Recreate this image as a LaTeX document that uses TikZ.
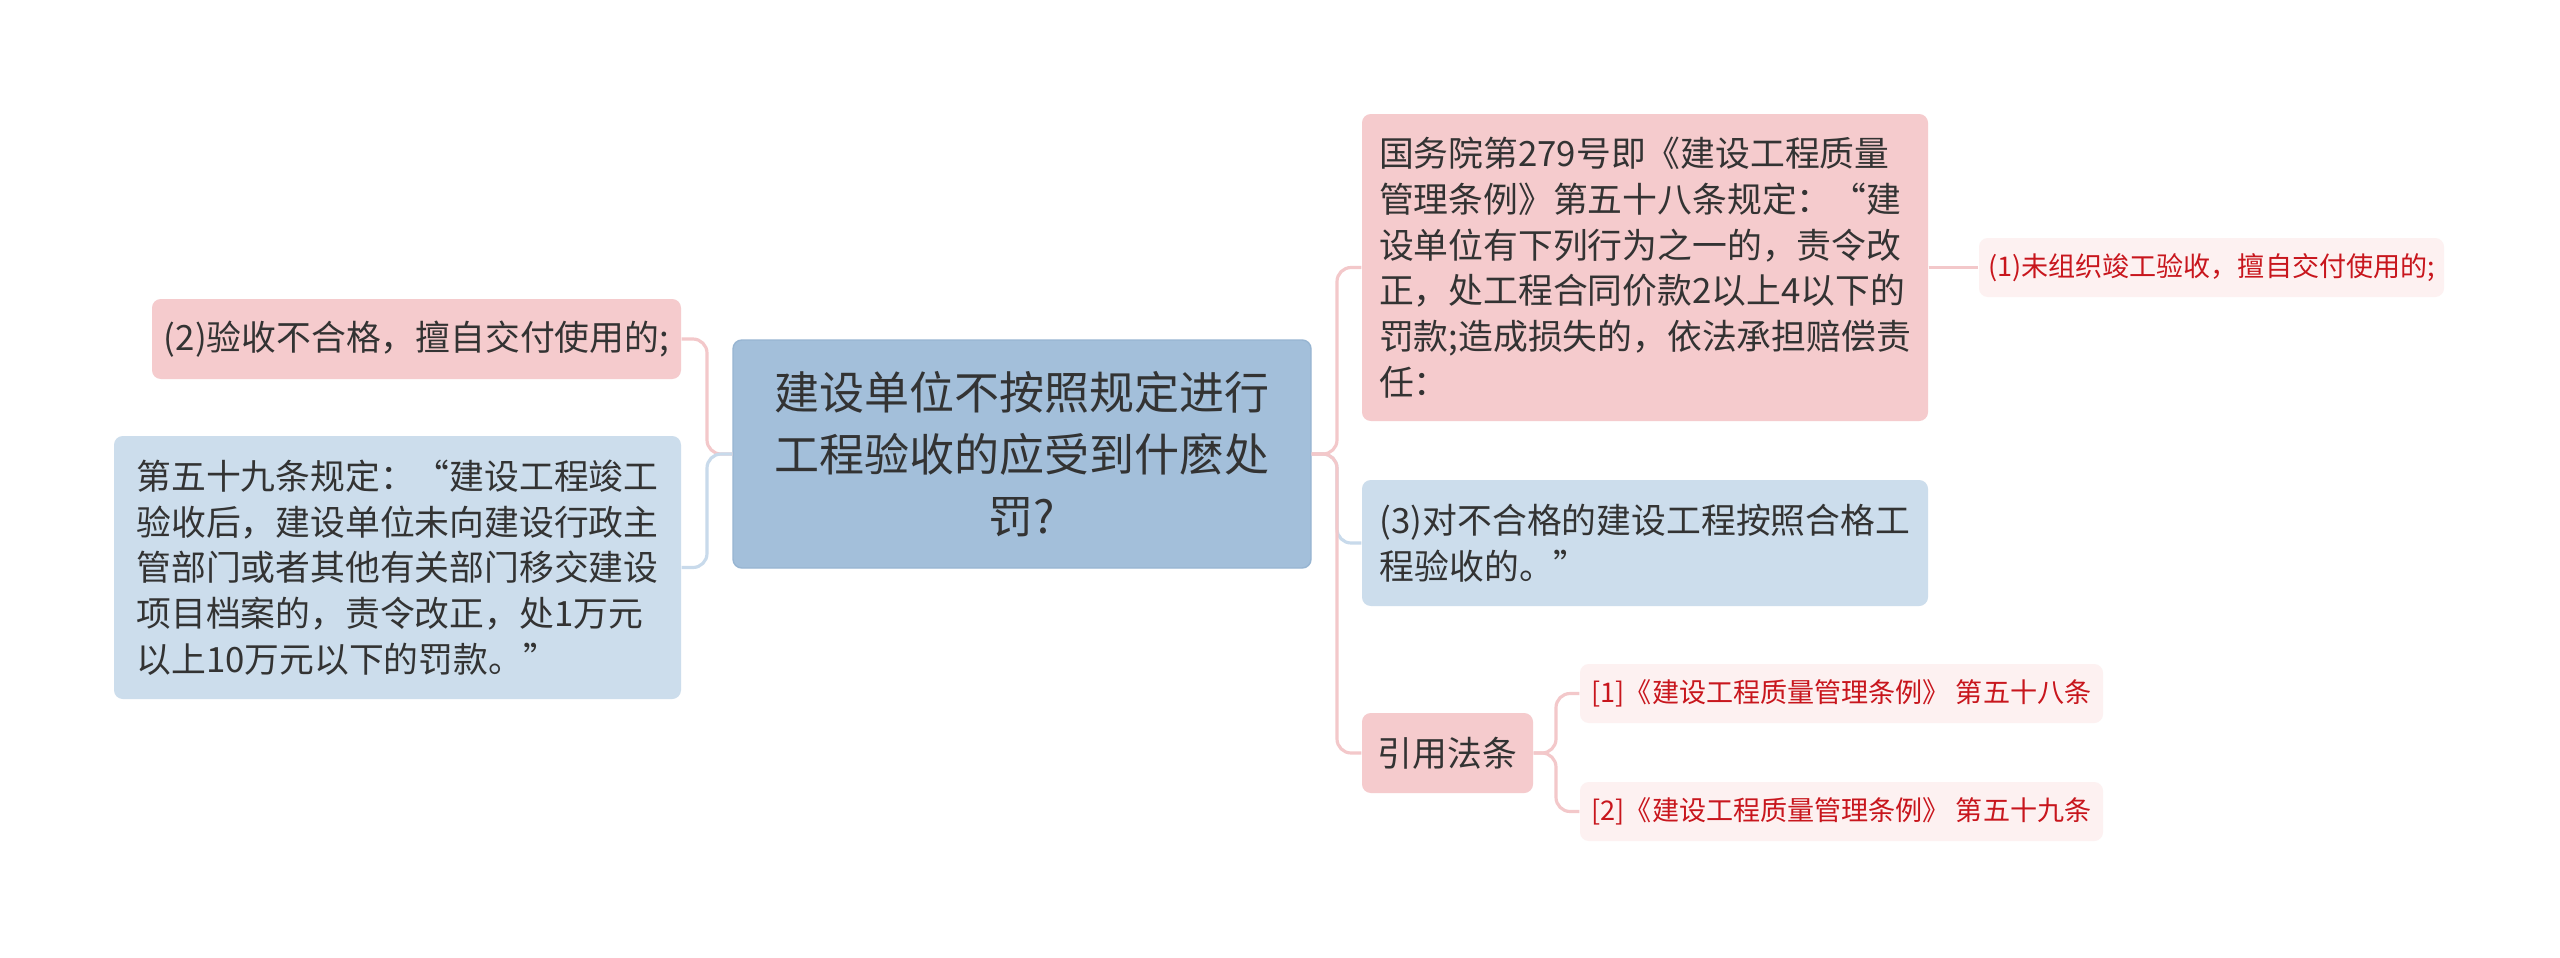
\documentclass[tikz,border=0pt]{standalone}
\usepackage{fontspec}
\setmainfont{Noto Sans CJK SC}
\usetikzlibrary{calc}
\definecolor{rootblue}{HTML}{A3BFDA}
\definecolor{rootedge}{HTML}{97B5D2}
\definecolor{boxpink}{HTML}{F5CBCD}
\definecolor{boxblue}{HTML}{CCDDEC}
\definecolor{leafpink}{HTML}{FDF1F1}
\definecolor{leafred}{HTML}{C8161D}
\definecolor{inkgray}{HTML}{333333}
\definecolor{linkpink}{HTML}{F3C8CA}
\definecolor{linkblue}{HTML}{C8DAEB}
\tikzset{
  rootbox/.style={rounded corners=2.5pt, inner sep=0pt, fill=rootblue, draw=rootedge, line width=0.4pt,
    align=center, text=inkgray, font=\fontsize{12.8}{17.6}\selectfont},
  topicbox/.style={rounded corners=2.5pt, inner sep=0pt, align=left, text=inkgray,
    font=\fontsize{9.9}{13}\selectfont},
  leafbox/.style={rounded corners=2.5pt, inner sep=0pt, fill=leafpink, align=left, text=leafred,
    font=\fontsize{7.7}{9.5}\selectfont},
  pinklink/.style={draw=linkpink, line width=0.9pt, rounded corners=4pt},
  bluelink/.style={draw=linkblue, line width=0.9pt, rounded corners=4pt},
  % box size, in pixels
  boxsize/.style 2 args={minimum width=#1*0.01cm, minimum height=#2*0.01cm}
}

\begin{document}
\begin{tikzpicture}[x=0.01cm, y=-0.01cm]
        \useasboundingbox[fill=white] (0,0) rectangle (2560,957);

        % centre
        \node[rootbox, boxsize={578}{228}] (root) at (1022,454)
          {建设单位不按照规定进行\\工程验收的应受到什麽处\\罚?};

        % left side
        \node[topicbox, fill=boxpink, boxsize={529}{80}] (accept) at (416.5,339)
          {(2)验收不合格，擅自交付使用的;};
        \node[topicbox, fill=boxblue, boxsize={567}{263}] (art59) at (397.5,567.5)
          {第五十九条规定：“建设工程竣工\\验收后，建设单位未向建设行政主\\管部门或者其他有关部门移交建设\\项目档案的，责令改正，处1万元\\以上10万元以下的罚款。”};

        % right side
        \node[topicbox, fill=boxpink, boxsize={566}{307}] (art58) at (1645,267.5)
          {国务院第279号即《建设工程质量\\管理条例》第五十八条规定：“建\\设单位有下列行为之一的，责令改\\正，处工程合同价款2以上4以下的\\罚款;造成损失的，依法承担赔偿责\\任：};
        \node[leafbox, boxsize={465}{59}] (item1) at (2211.5,267.5)
          {(1)未组织竣工验收，擅自交付使用的;};
        \node[topicbox, fill=boxblue, boxsize={566}{126}] (item3) at (1645,543)
          {(3)对不合格的建设工程按照合格工\\程验收的。”};
        \node[topicbox, fill=boxpink, boxsize={171}{80}] (cite) at (1447.5,753)
          {引用法条};
        \node[leafbox, boxsize={523}{59}] (cite1) at (1841.5,693.5)
          {[1]《建设工程质量管理条例》 第五十八条};
        \node[leafbox, boxsize={523}{59}] (cite2) at (1841.5,811.5)
          {[2]《建设工程质量管理条例》 第五十九条};

        % spines
        \coordinate (lspine) at (707,454);
        \coordinate (rspine) at (1337,454);
        \coordinate (cspine) at (1556,753);

        % links
        \draw[pinklink] (root.west) -- (lspine) |- (accept.east);
        \draw[bluelink] (root.west) -- (lspine) |- (art59.east);
        \draw[bluelink] (root.east) -- (rspine) |- (item3.west);
        \draw[pinklink] (root.east) -- (rspine) |- (art58.west);
        \draw[pinklink] (root.east) -- (rspine) |- (cite.west);
        \draw[pinklink] (art58.east) -- (item1.west);
        \draw[pinklink] (cite.east) -- (cspine) |- (cite1.west);
        \draw[pinklink] (cite.east) -- (cspine) |- (cite2.west);

\end{tikzpicture}
\end{document}
